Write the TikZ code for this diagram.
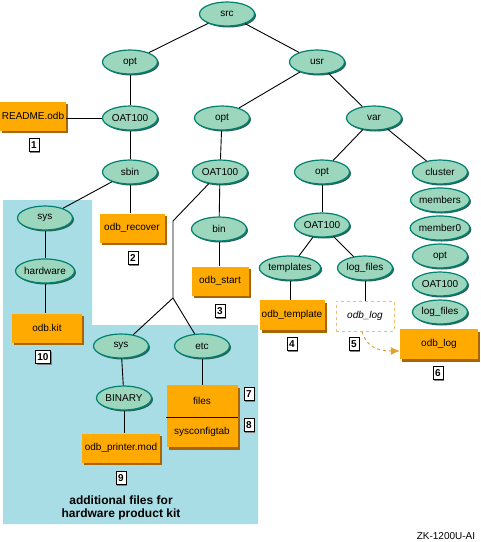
\documentclass[tikz,border=0pt]{standalone}
\usepackage{fontspec}
\setmainfont{Liberation Sans}
\usepackage{xcolor}
\usetikzlibrary{shapes,arrows.meta,shadows}

\definecolor{dirfill}{RGB}{155,214,189}
\definecolor{dirline}{RGB}{0,128,112}
\definecolor{dirshadow}{RGB}{40,100,90}
\definecolor{boxfill}{RGB}{255,170,0}
\definecolor{boxshadow}{RGB}{170,100,0}
\definecolor{kitblue}{RGB}{168,221,229}
\definecolor{linkorange}{RGB}{225,160,50}

\tikzset{
  folder/.style={draw=dirline, line width=1.2pt, fill=dirfill, ellipse, minimum width=55pt, minimum height=24pt, inner sep=0pt,
    font=\fontsize{10}{12}\selectfont, drop shadow={shadow xshift=1.5pt, shadow yshift=-1.5pt, fill=dirshadow, opacity=1}},
  filebox/.style={fill=boxfill, rectangle, inner sep=0pt, font=\fontsize{10}{12}\selectfont,
    drop shadow={shadow xshift=2pt, shadow yshift=-2.5pt, fill=boxshadow, opacity=1}},
  numbox/.style={draw, fill=white, line width=0.8pt, inner sep=0pt, minimum width=10pt, minimum height=13pt,
    font=\bfseries\fontsize{10}{11}\selectfont, drop shadow={shadow xshift=1pt, shadow yshift=-1pt, fill=gray, opacity=1}},
  link/.style={line width=0.9pt}
}

\begin{document}
\begin{tikzpicture}[x=1pt, y=-1pt]
        \useasboundingbox (0,0) rectangle (481,542);

        % hardware product kit area
        \fill[kitblue] (3,200) -- (92,200) -- (92,325) -- (258,325) -- (258,524) -- (3,524) -- cycle;

        % directories
        \node[folder] (src) at (227,14) {src};
        \node[folder] (optl) at (130,62) {opt};
        \node[folder] (usr) at (317,62) {usr};
        \node[folder] (oatl) at (130,118) {OAT100};
        \node[folder] (optm) at (222,118) {opt};
        \node[folder] (var) at (374,118) {var};
        \node[folder] (sbin) at (130,172) {sbin};
        \node[folder] (oatm) at (220,172) {OAT100};
        \node[folder] (optr) at (322,172) {opt};
        \node[folder] (cluster) at (440,172) {cluster};
        \node[folder] (members) at (440,200) {members};
        \node[folder] (member0) at (440,228) {member0};
        \node[folder] (optc) at (440,256) {opt};
        \node[folder] (oatc) at (440,284) {OAT100};
        \node[folder] (logc) at (440,312) {log\_files};
        \node[folder] (sysl) at (45,218) {sys};
        \node[folder] (hardware) at (45,271) {hardware};
        \node[folder] (bin) at (219,229) {bin};
        \node[folder] (oatr) at (322,225) {OAT100};
        \node[folder] (templates) at (290,268) {templates};
        \node[folder] (logfiles) at (365,268) {log\_files};
        \node[folder] (sysm) at (121,346) {sys};
        \node[folder] (etc) at (202,346) {etc};
        \node[folder] (binary) at (124,398) {BINARY};

        % files
        \node[filebox, minimum width=66pt, minimum height=29pt] (readme) at (33,116) {README.odb};
        \node[filebox, minimum width=65pt, minimum height=29pt] (recover) at (132,228) {odb\_recover};
        \node[filebox, minimum width=57pt, minimum height=29pt] (start) at (220,281) {odb\_start};
        \node[filebox, minimum width=65pt, minimum height=30pt] (template) at (292,315) {odb\_template};
        \node[draw=linkorange!70, dashed, line width=1pt, fill=white, minimum width=58pt, minimum height=30pt,
          font=\itshape\fontsize{10}{12}\selectfont] (logdash) at (365,316) {odb\_log};
        \node[filebox, minimum width=78pt, minimum height=30pt] (logbox) at (439,344) {odb\_log};
        \node[filebox, minimum width=70pt, minimum height=29pt] (kit) at (47,328) {odb.kit};
        \node[filebox, minimum width=78pt, minimum height=29pt] (printer) at (121,448) {odb\_printer.mod};
        \node[filebox, minimum width=71pt, minimum height=32pt] (files) at (202,401) {files};
        \node[filebox, minimum width=71pt, minimum height=30pt] (sysconfig) at (202,432) {sysconfigtab};
        \draw[line width=0.9pt] (files.south west) -- (files.south east);

        % numbers
        \node[numbox] (n1) at (34,145) {1};
        \node[numbox] (n2) at (133,258) {2};
        \node[numbox] (n3) at (220,311) {3};
        \node[numbox] (n4) at (292,344) {4};
        \node[numbox] (n5) at (354,344) {5};
        \node[numbox] (n6) at (438,373) {6};
        \node[numbox] (n7) at (249,394) {7};
        \node[numbox] (n8) at (249,425) {8};
        \node[numbox] (n9) at (121,478) {9};
        \node[numbox, minimum width=15pt] (n10) at (43,357) {10};

        % tree lines
        \draw[link] (src) -- (optl);
        \draw[link] (src) -- (usr);
        \draw[link] (optl) -- (oatl);
        \draw[link] (oatl) -- (readme.east |- oatl);
        \draw[link] (oatl) -- (sbin);
        \draw[link] (sbin) -- (sysl);
        \draw[link] (sbin) -- (sbin |- recover.north);
        \draw[link] (sysl) -- (hardware);
        \draw[link] (hardware) -- (hardware |- kit.north);
        \draw[link] (usr) -- (optm);
        \draw[link] (usr) -- (var);
        \draw[link] (optm) -- (oatm);
        \draw[link] (oatm) -- (bin);
        \draw[link] (bin) -- (bin |- start.north);
        \coordinate (bend) at (173,221);
        \coordinate (fork) at (173,298);
        \draw[link] (oatm) -- (bend) -- (fork) -- (sysm);
        \draw[link] (fork) -- (etc);
        \draw[link] (sysm) -- (binary);
        \draw[link] (binary) -- (binary |- printer.north);
        \draw[link] (etc) -- (etc |- files.north);
        \draw[link] (var) -- (optr);
        \draw[link] (var) -- (cluster);
        \draw[link] (optr) -- (oatr);
        \draw[link] (oatr) -- (templates);
        \draw[link] (oatr) -- (logfiles);
        \draw[link] (templates) -- (templates |- template.north);
        \draw[link] (logfiles) -- (logdash);

        % link to the cluster log
        \draw[linkorange, line width=1pt, dashed, -{Latex[length=9pt, width=8pt]}]
          ([xshift=-3pt]logdash.south) .. controls (366,345) and (375,351) .. ([yshift=-7pt]logbox.west);

        \node[font=\bfseries\fontsize{12}{13}\selectfont, align=center] (kitnote) at (121,508) {additional files for\\hardware product kit};
        \node[font=\fontsize{10}{12}\selectfont] (figid) at (446,536) {ZK-1200U-AI};
    \end{tikzpicture}
\end{document}
